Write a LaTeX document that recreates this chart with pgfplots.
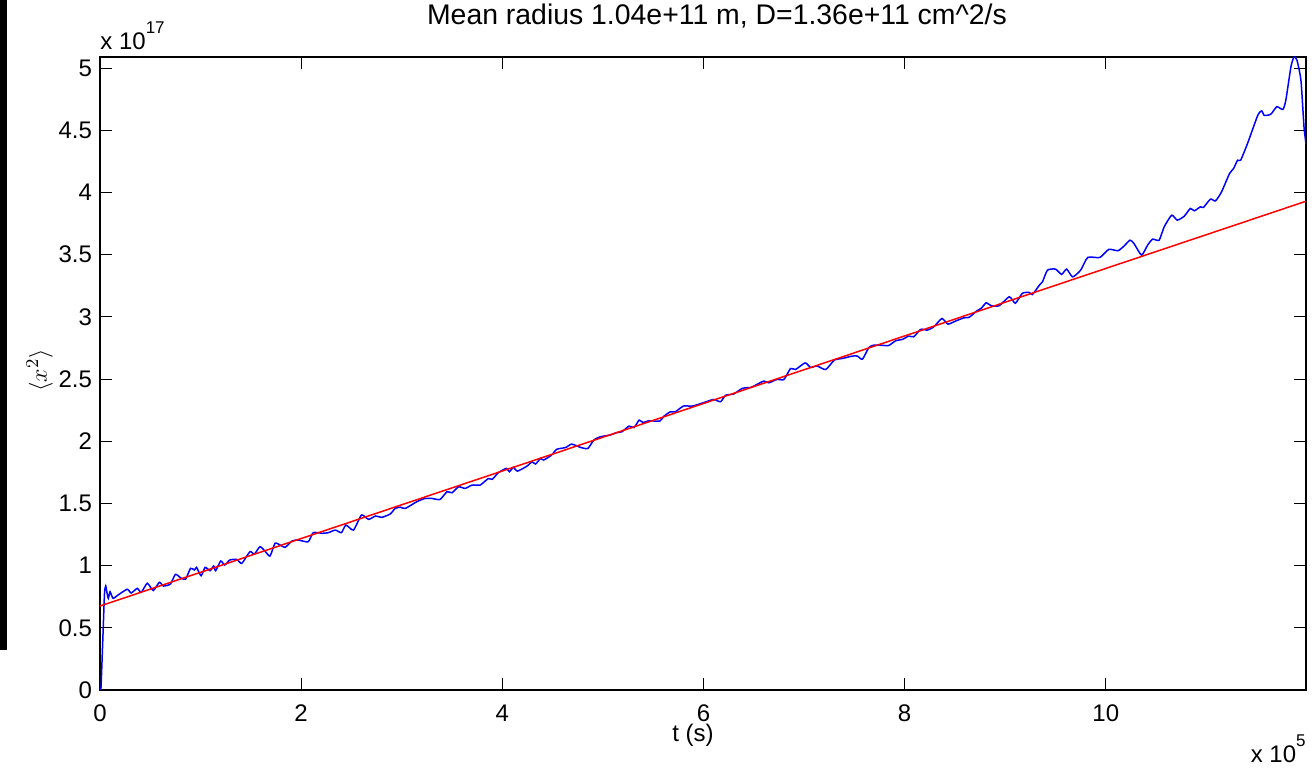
\documentclass[border=0pt]{standalone}
\usepackage{pgfplots}
\pgfplotsset{compat=1.18}
\usepackage{fontspec}
\setmainfont{Liberation Sans}
\definecolor{mblue}{rgb}{0,0,1}
\definecolor{mred}{rgb}{1,0,0}
\begin{document}
\begin{tikzpicture}
\useasboundingbox (-50pt,-39.5pt) rectangle (607pt,345pt);
\fill[black] (-50pt,20pt) rectangle (-46.5pt,345pt);
\begin{axis}[
  scale only axis,
  width=603pt, height=316.5pt,
  xmin=0, xmax=11.99, ymin=0, ymax=5.09,
  xtick={0,2,4,6,8,10},
  ytick={0,0.5,1,1.5,2,2.5,3,3.5,4,4.5,5},
  yticklabels={0,0.5,1,1.5,2,2.5,3,3.5,4,4.5,5},
  xticklabels={0,2,4,6,8,10},
  tick align=inside,
  major tick length=6pt,
  tick style={black, line width=0.5pt},
  axis line style={black, line width=0.6pt},
  ticklabel style={font=\fontsize{12}{14}\selectfont},
  xticklabel style={anchor=base, yshift=-16pt, inner sep=0.5pt},
  yticklabel style={anchor=east, xshift=-0.5pt},
  title={Mean radius 1.04e+11 m, D=1.36e+11 cm\^{}2/s},
  title style={font=\fontsize{14.2}{16}\selectfont, at={(axis description cs:0.5,1)}, anchor=base, yshift=10pt, xshift=7pt},
  xlabel={t (s)},
  xlabel style={font=\fontsize{12}{14}\selectfont, inner sep=0pt, at={(axis description cs:0.5,0)}, anchor=base, yshift=-26pt, xshift=-5pt},
  ylabel={$\langle x^2\rangle$},
  ylabel style={font=\fontsize{13}{15}\selectfont, at={(axis description cs:-0.05,0.505)}, anchor=center},
  clip mode=individual,
]
\addplot[mblue, line width=0.75pt, smooth, tension=0.35] coordinates {
(0,0) (0.01,0.02) (0.03,0.45) (0.045,0.78) (0.057,0.836) (0.07,0.78) (0.083,0.737)
(0.10,0.79) (0.13,0.737) (0.18,0.764) (0.27,0.81) (0.31,0.78) (0.37,0.817) (0.41,0.785)
(0.47,0.858) (0.53,0.80) (0.59,0.866) (0.63,0.836) (0.70,0.852) (0.75,0.93) (0.80,0.903)
(0.85,0.89) (0.90,0.978) (0.94,0.965) (0.96,0.986) (1.005,0.919) (1.045,0.986) (1.095,0.959)
(1.13,0.997) (1.15,0.959) (1.20,1.037) (1.24,1.005) (1.29,1.045) (1.36,1.05) (1.41,1.018)
(1.49,1.112) (1.535,1.093) (1.59,1.152) (1.64,1.117) (1.69,1.077) (1.74,1.179) (1.79,1.166)
(1.84,1.147) (1.91,1.198) (1.97,1.206) (2.07,1.192) (2.12,1.265) (2.21,1.26) (2.27,1.265)
(2.34,1.286) (2.40,1.265) (2.445,1.326) (2.52,1.286) (2.60,1.407) (2.67,1.372) (2.74,1.399)
(2.80,1.388) (2.885,1.415) (2.935,1.46) (2.985,1.47) (3.035,1.46) (3.15,1.514) (3.23,1.54)
(3.30,1.54) (3.38,1.532) (3.45,1.594) (3.50,1.586) (3.565,1.634) (3.63,1.621) (3.70,1.648)
(3.78,1.648) (3.86,1.70) (3.90,1.694) (3.96,1.747) (4.04,1.782) (4.07,1.755) (4.11,1.79)
(4.15,1.76) (4.245,1.80) (4.295,1.835) (4.33,1.817) (4.38,1.862) (4.41,1.849) (4.49,1.889)
(4.54,1.935) (4.63,1.95) (4.69,1.977) (4.78,1.95) (4.85,1.942) (4.91,2.01) (4.975,2.036)
(5.07,2.05) (5.14,2.07) (5.19,2.077) (5.26,2.122) (5.31,2.11) (5.36,2.17) (5.40,2.15)
(5.455,2.165) (5.565,2.162) (5.605,2.20) (5.67,2.237) (5.72,2.237) (5.80,2.283) (5.89,2.283)
(6.00,2.31) (6.10,2.336) (6.17,2.318) (6.22,2.37) (6.30,2.38) (6.385,2.425) (6.47,2.433)
(6.52,2.452) (6.60,2.484) (6.65,2.47) (6.73,2.497) (6.80,2.497) (6.865,2.585) (6.915,2.577)
(7.01,2.63) (7.065,2.594) (7.13,2.605) (7.215,2.577) (7.30,2.652) (7.38,2.666) (7.48,2.685)
(7.53,2.685) (7.58,2.66) (7.645,2.755) (7.695,2.773) (7.76,2.773) (7.84,2.77) (7.91,2.808)
(7.98,2.82) (8.04,2.846) (8.09,2.84) (8.16,2.90) (8.225,2.894) (8.29,2.92) (8.37,2.987)
(8.43,2.942) (8.51,2.968) (8.59,2.993) (8.64,2.996) (8.72,3.05) (8.76,3.068) (8.81,3.113)
(8.86,3.09) (8.94,3.09) (9.04,3.162) (9.10,3.11) (9.17,3.19) (9.24,3.196) (9.27,3.18)
(9.34,3.256) (9.37,3.282) (9.42,3.376) (9.50,3.384) (9.56,3.342) (9.61,3.384) (9.67,3.322)
(9.75,3.376) (9.82,3.478) (9.94,3.478) (10.03,3.543) (10.12,3.532) (10.18,3.569) (10.24,3.617)
(10.28,3.59) (10.355,3.497) (10.415,3.577) (10.465,3.625) (10.53,3.617) (10.58,3.724)
(10.655,3.818) (10.71,3.778) (10.78,3.81) (10.84,3.872) (10.88,3.853) (10.94,3.885)
(10.97,3.88) (11.04,3.947) (11.09,3.933) (11.15,4.005) (11.23,4.153) (11.27,4.193)
(11.31,4.26) (11.34,4.26) (11.41,4.397) (11.51,4.62) (11.55,4.657) (11.575,4.62) (11.64,4.63)
(11.70,4.69) (11.76,4.668) (11.79,4.745) (11.84,5.01) (11.87,5.09) (11.90,5.065) (11.94,4.90)
(11.97,4.53) (11.99,4.39)
};
\addplot[mred, line width=0.75pt] coordinates {(0,0.675) (11.99,3.93)};
\node[anchor=base west, inner sep=0pt, font=\fontsize{12}{14}\selectfont] at (axis description cs:0,1) [yshift=3.5pt] {x 10\raisebox{8pt}{\fontsize{8.5}{9}\selectfont 17}};
\node[anchor=base east, inner sep=0pt, font=\fontsize{12}{14}\selectfont] at (axis description cs:1,0) [yshift=-36.5pt] {x 10\raisebox{8pt}{\fontsize{8.5}{9}\selectfont 5}};
\end{axis}
\end{tikzpicture}
\end{document}
